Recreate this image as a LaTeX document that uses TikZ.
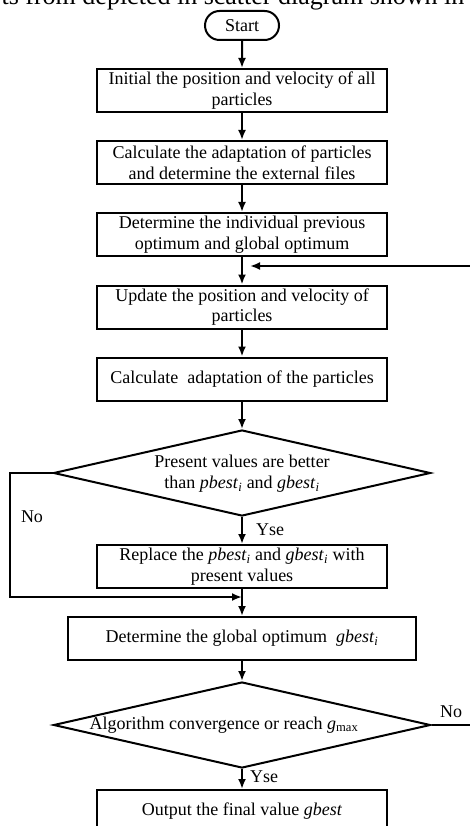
\documentclass[tikz,border=0pt]{standalone}
\usepackage{fontspec}
\setmainfont{Liberation Serif}
\usepackage{tikz}
\usetikzlibrary{arrows.meta,positioning,shapes.geometric,shapes.misc}
\tikzset{stepbox/.style={draw,rectangle,line width=2pt,minimum width=290pt,minimum height=43pt,inner sep=0,align=center,font=\fontsize{18}{20.7}\selectfont},
    startbox/.style={draw,rounded rectangle,line width=2pt,minimum width=74pt,minimum height=29pt,inner sep=0,font=\fontsize{18}{20.7}\selectfont},
    decision/.style={draw,diamond,line width=2pt,minimum width=377pt,minimum height=86pt,inner sep=0},
    decisiontext/.style={align=center,inner sep=0,font=\fontsize{18}{20.7}\selectfont},
    branchlabel/.style={inner sep=0,font=\fontsize{18}{20.7}\selectfont},
    flowarrow/.style={->,line width=2pt}
}
\newcommand{\pbesti}{\textit{pbest}\textsubscript{\textit{i}}}
\newcommand{\gbesti}{\textit{gbest}\textsubscript{\textit{i}}}

\begin{document}
\begin{tikzpicture}[x=1pt,y=-1pt,>={Latex[length=10pt,width=8pt]}]

\useasboundingbox (0,0) rectangle (470,826);
\clip (0,0) rectangle (470,826);

% cut-off line of the page above
\node (pagetext) [anchor=base,inner sep=0,font=\fontsize{26}{30}\selectfont] at (233,5) {ts from depicted in scatter diagram shown in};

\node (start) at (242,25.5) [startbox] {Start};
\node (init) at (242,90.5) [stepbox] {Initial the position and velocity of all\\particles};
\node (fitness) at (242,162.5) [stepbox] {Calculate the adaptation of particles\\and determine the external files};
\node (optimum) at (242,234.5) [stepbox] {Determine the individual previous\\optimum and global optimum};
\node (update) at (242,307) [stepbox] {Update the position and velocity of\\particles};
\node (refit) at (242,379) [stepbox] {Calculate\ \ adaptation of the particles};
\node (better) at (242,473) [decision,label={[decisiontext,yshift=-1pt]center:{Present values are better\\than \pbesti{} and \gbesti}}] {};
\node (replace) at (242,566.5) [stepbox] {Replace the \pbesti{} and \gbesti{} with\\present values};
\node (global) at (242,638.5) [stepbox,minimum width=348pt] {Determine the global optimum\ \ \gbesti};
\node (converge) at (242,725) [decision,label={[decisiontext,xshift=-18pt]center:{Algorithm convergence or reach \textit{g}\textsubscript{max}}}] {};
\node (output) at (242,811.5) [stepbox] {Output the final value \textit{gbest}};

\coordinate (loopin) at (470,266);
\coordinate (loopout) at (470,725);
\coordinate (nojoin) at (242,597);

\draw [flowarrow] (start) -- (init);
\draw [flowarrow] (init) -- (fitness);
\draw [flowarrow] (fitness) -- (optimum);
\draw [flowarrow] (optimum) -- (update);
\draw [flowarrow] (update) -- (refit);
\draw [flowarrow] (refit) -- (better);
\draw [flowarrow] (better) -- (replace);
\draw [flowarrow] (replace) -- (global);
\draw [flowarrow] (global) -- (converge);
\draw [flowarrow] (converge) -- (output);

\draw [flowarrow,shorten >=8pt] (loopin) -- (optimum.south |- loopin);
\draw [flowarrow] (better.west) -- ++(-43,0) |- (nojoin);
\draw [line width=2pt] (converge.east) -- (loopout);

\node (nobetter) [branchlabel] at (32,517) {No};
\node (yesbetter) [branchlabel,anchor=west] at (256,530) {Yse};
\node (noconverge) [branchlabel] at (451,712) {No};
\node (yesconverge) [branchlabel,anchor=west] at (250,777) {Yse};

\end{tikzpicture}
\end{document}
